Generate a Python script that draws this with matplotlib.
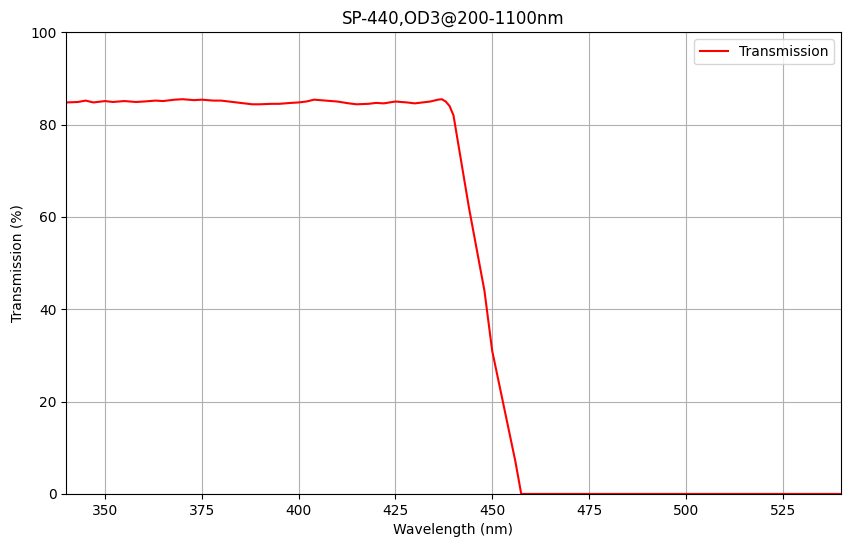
import matplotlib
matplotlib.use("Agg")
import matplotlib.pyplot as plt

wavelength = [340, 343, 345, 347, 350, 352, 355, 358, 360, 363, 365, 368, 370, 373, 375, 378,
              380, 383, 385, 388, 390, 393, 395, 398, 400, 402, 404, 407, 410, 413, 415, 418,
              420, 422, 425, 428, 430, 432, 434, 436, 437, 438, 439, 440, 442, 444, 446, 448,
              450, 452, 454, 456, 457.5, 460, 480, 500, 520, 540]
transmission = [84.8, 84.9, 85.2, 84.8, 85.1, 84.9, 85.1, 84.9, 85.0, 85.2, 85.1, 85.4, 85.5, 85.3, 85.4, 85.2,
                85.2, 84.9, 84.7, 84.4, 84.4, 84.5, 84.5, 84.7, 84.8, 85.0, 85.4, 85.2, 85.0, 84.6, 84.4, 84.5,
                84.7, 84.6, 85.0, 84.8, 84.6, 84.8, 85.0, 85.4, 85.5, 85.0, 84.0, 82.0, 72.0, 62.0, 53.0, 44.0,
                31.0, 23.0, 15.0, 7.0, 0.0, 0.0, 0.0, 0.0, 0.0, 0.0]

fig = plt.figure(figsize=(8.5, 5.47), dpi=100)
ax = fig.add_axes([0.078, 0.097, 0.911, 0.844])
ax.plot(wavelength, transmission, color="red", label="Transmission")
ax.set_xlim(340, 540)
ax.set_ylim(0, 100)
ax.set_xlabel("Wavelength (nm)")
ax.set_ylabel("Transmission (%)")
ax.set_title("SP-440,OD3@200-1100nm")
ax.grid(True)
ax.legend(loc="upper right")
fig.savefig("out.png")
